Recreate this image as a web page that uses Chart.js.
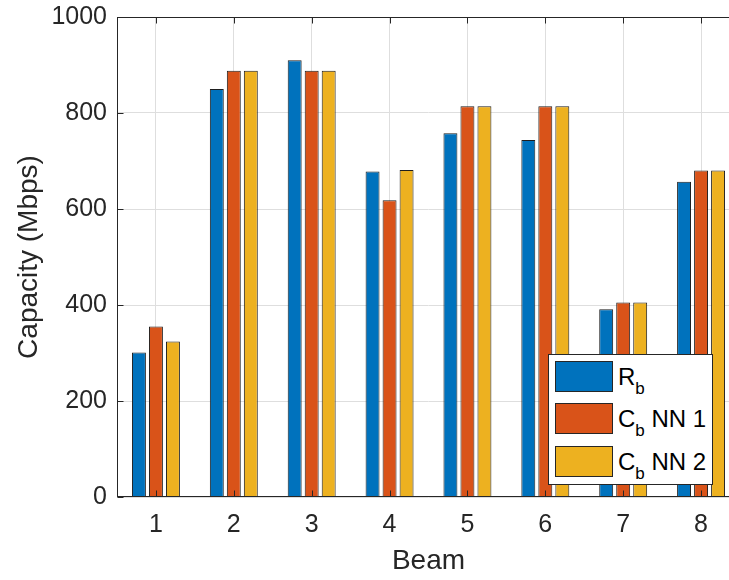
<!DOCTYPE html>
<html>
<head>
<meta charset="utf-8">
<script src="https://cdn.jsdelivr.net/npm/chart.js@4.4.1/dist/chart.umd.min.js"></script>
<style>
  html, body { margin: 0; padding: 0; background: #fff; overflow: hidden; }
  #wrap { position: relative; width: 741px; height: 580px; }
  #legend {
    position: absolute; left: 548px; top: 354px; width: 163px; height: 129px;
    background: #fff; border: 1px solid #262626;
    font-family: "Liberation Sans", Arial, sans-serif; font-size: 24px; color: #000;
  }
  .row { position: absolute; left: 6px; height: 31px; }
  .patch { position: absolute; left: 0; top: 0; width: 56px; height: 29px; border: 1px solid #262626; }
  .label { position: absolute; left: 63px; top: 0px; white-space: nowrap; line-height: 31px; }
  .label sub { font-size: 17px; vertical-align: -9px; line-height: 0; }
</style>
</head>
<body>
<div id="wrap">
  <canvas id="capacityChart" width="741" height="580"></canvas>
  <div id="legend">
    <div class="row" style="top:6px"><div class="patch" style="background:#0072BD"></div><div class="label">R<sub>b</sub></div></div>
    <div class="row" style="top:48px"><div class="patch" style="background:#D95319"></div><div class="label">C<sub>b</sub> NN 1</div></div>
    <div class="row" style="top:91px"><div class="patch" style="background:#EDB120"></div><div class="label">C<sub>b</sub> NN 2</div></div>
  </div>
</div>
<script>
const beams = ['1', '2', '3', '4', '5', '6', '7', '8'];
const rb = [301, 850, 910, 678, 758, 744, 391, 657];
const cbNN1 = [355, 888, 888, 618, 814, 814, 405, 680];
const cbNN2 = [324, 888, 888, 681, 814, 814, 405, 680];
const yTicks = [0, 200, 400, 600, 800, 1000];

const FONT = '"Liberation Sans", Arial, sans-serif';
const AXIS = '#262626';

// MATLAB style box with inward ticks
const boxPlugin = {
    id: 'matlabBox',
    afterDatasetsDraw(chart) {
        const { ctx, chartArea: a, scales } = chart;
        const L = Math.round(a.left) + 0.5, R = Math.round(a.right) - 0.5;
        const T = Math.round(a.top) + 0.5, B = Math.round(a.bottom) - 0.5;
        ctx.save();
        ctx.strokeStyle = AXIS;
        ctx.lineWidth = 1;
        ctx.beginPath();
        scales.x.ticks.forEach((t, i) => {
            const x = Math.round(scales.x.getPixelForTick(i)) + 0.5;
            ctx.moveTo(x, B); ctx.lineTo(x, B - 6);
            ctx.moveTo(x, T); ctx.lineTo(x, T + 6);
        });
        yTicks.forEach(v => {
            const y = Math.round(scales.y.getPixelForValue(v)) + 0.5;
            ctx.moveTo(L, y); ctx.lineTo(L + 6, y);
            ctx.moveTo(R, y); ctx.lineTo(R - 6, y);
        });
        ctx.stroke();
        ctx.strokeRect(L, T, R - L, B - T);
        ctx.restore();
    }
};

new Chart(document.getElementById('capacityChart'), {
    type: 'bar',
    data: {
        labels: beams,
        datasets: [
            { label: 'Rb', data: rb, backgroundColor: '#0072BD' },
            { label: 'Cb NN 1', data: cbNN1, backgroundColor: '#D95319' },
            { label: 'Cb NN 2', data: cbNN2, backgroundColor: '#EDB120' }
        ].map(d => Object.assign(d, {
            borderColor: '#1e1e1e',
            borderWidth: 1,
            categoryPercentage: 0.655,
            barPercentage: 0.82
        }))
    },
    options: {
        responsive: false,
        animation: false,
        layout: { padding: { top: 17, right: 1, left: 0, bottom: 0 } },
        plugins: { legend: { display: false }, tooltip: { enabled: false } },
        scales: {
            x: {
                grid: { offset: false, color: '#dedede', drawTicks: false },
                border: { display: false },
                ticks: { color: AXIS, font: { family: FONT, size: 25 }, padding: 13 },
                title: { display: true, text: 'Beam', color: AXIS,
                         font: { family: FONT, size: 28 }, padding: { bottom: 2 } },
                afterFit(s) { s.height = 83; s.paddingLeft = 0; s.paddingRight = 0; }
            },
            y: {
                min: 0, max: 1000,
                grid: { color: '#dedede', drawTicks: false },
                border: { display: false },
                ticks: { stepSize: 200, color: AXIS, font: { family: FONT, size: 25 }, padding: 10,
                         callback: v => String(v) },
                title: { display: true, text: 'Capacity (Mbps)', color: AXIS,
                         font: { family: FONT, size: 28 }, padding: { top: 12 } },
                afterFit(s) { s.width = 117; s.paddingTop = 0; s.paddingBottom = 0; }
            }
        }
    },
    plugins: [boxPlugin]
});
</script>
</body>
</html>
